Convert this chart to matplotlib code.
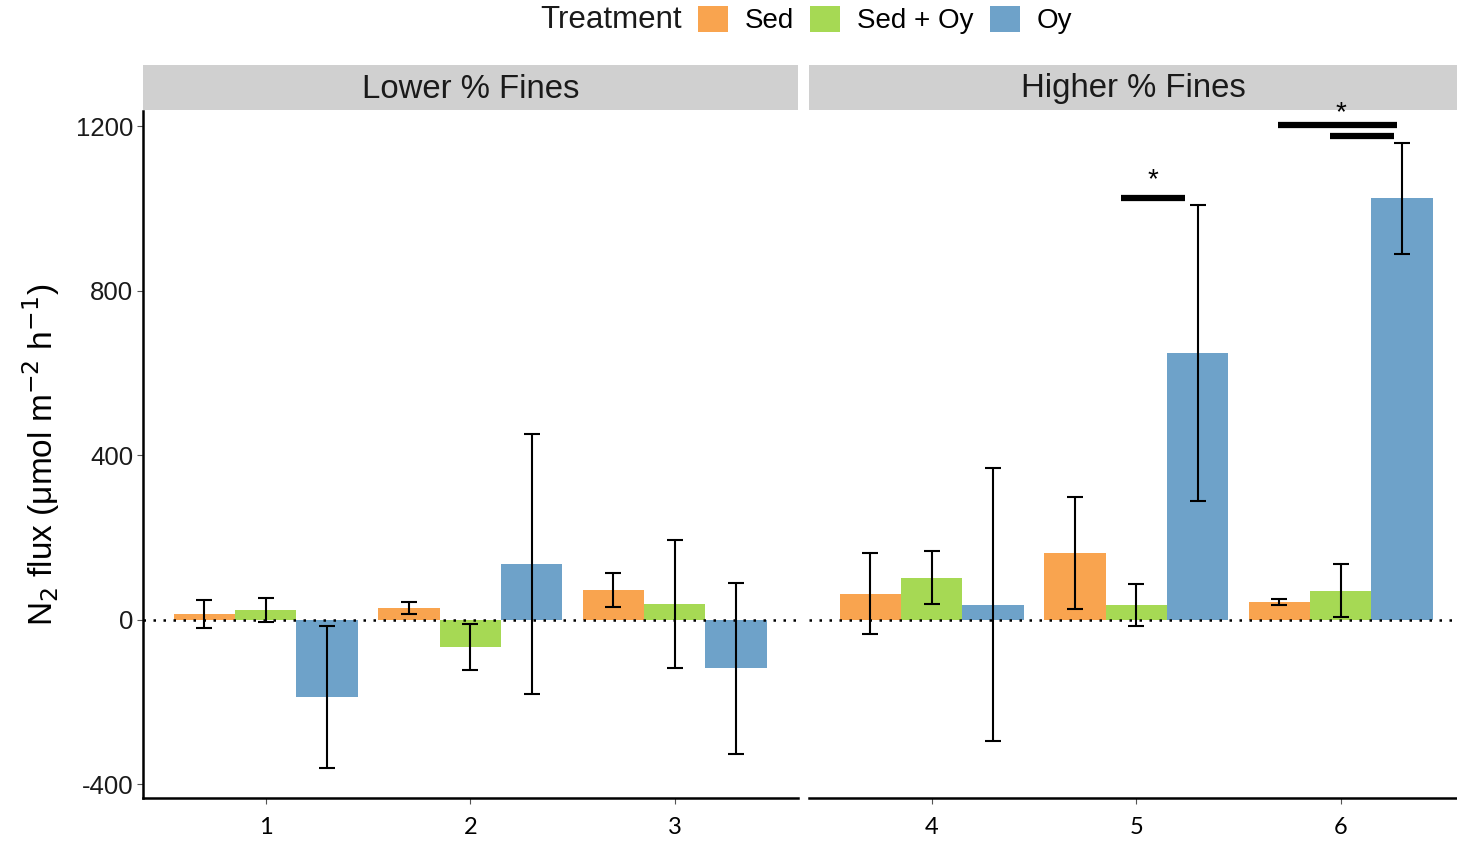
import matplotlib
matplotlib.use("Agg")
import matplotlib.pyplot as plt
from matplotlib.patches import Rectangle
import numpy as np

plt.rcParams["font.family"] = ["Liberation Sans", "DejaVu Sans"]

# ---- data ----
panels = ["Lower % Fines", "Higher % Fines"]
sites = [["1", "2", "3"], ["4", "5", "6"]]
treatments = ["Sed", "Sed + Oy", "Oy"]
colors = ["#F9A44F", "#A6D954", "#6EA2C9"]

sed = [15, 29, 73, 64, 162, 44]
sed_se = [34, 14, 41, 98, 136, 7]
sedoy = [24, -66, 38, 103, 35, 71]
sedoy_se = [28, 56, 156, 64, 51, 64]
oy = [-187, 136, -118, 37, 649, 1025]
oy_se = [172, 317, 208, 331, 360, 135]

means = [sed, sedoy, oy]
ses = [sed_se, sedoy_se, oy_se]

# significance annotations (panel 2): (x0, x1, y) in data units
sig_bars = [(1.926, 2.239, 1026), (2.693, 3.275, 1203), (2.948, 3.261, 1176)]
sig_stars = [(2.08, 1068), (3.0, 1232)]

yticks = [-400, 0, 400, 800, 1200]

# ---- figure ----
W, H = 1457, 841
fig = plt.figure(figsize=(W / 100, H / 100), dpi=100)

def fx(px):
    return px / W

def fy(py):
    return 1 - py / H

ax_top, ax_bot = 111, 798
axes_px = [(143, 798), (809, 1457)]
xlims = [(0.4, 0.4 + 655 / 204.5), (0.4, 0.4 + 648 / 204.5)]
ylim = (-433, 1237)

width = 0.3
offsets = [-width, 0, width]
axes = []
for p, (x0, x1) in enumerate(axes_px):
    ax = fig.add_axes([fx(x0), fy(ax_bot), fx(x1) - fx(x0), fy(ax_top) - fy(ax_bot)])
    ax.patch.set_alpha(0)
    axes.append(ax)
    xs = np.arange(1, 4)
    for t in range(3):
        m = means[t][p * 3:(p + 1) * 3]
        ax.bar(xs + offsets[t], m, width=width, color=colors[t], label=treatments[t],
               zorder=2, edgecolor="none")
    ax.axhline(0, color="black", linestyle=(0, (1, 3)), linewidth=1.8, zorder=3)
    for t in range(3):
        m = means[t][p * 3:(p + 1) * 3]
        s = ses[t][p * 3:(p + 1) * 3]
        ax.errorbar(xs + offsets[t], m, yerr=s, fmt="none", ecolor="black",
                    elinewidth=1.5, capsize=5.5, capthick=1.5, zorder=4)
    ax.set_xlim(*xlims[p])
    ax.set_ylim(*ylim)
    ax.set_xticks(xs)
    ax.set_xticklabels(sites[p], fontfamily="Lato", fontsize=17)
    ax.tick_params(axis="x", length=4, width=0.8, color="#555555", pad=10)
    for side in ["top", "right"]:
        ax.spines[side].set_visible(False)
    ax.spines["bottom"].set_linewidth(1.8)
    ax.spines["left"].set_linewidth(1.8)
    if p == 0:
        ax.set_yticks(yticks)
        ax.set_yticklabels([str(v) for v in yticks], fontsize=18.5, color="#1a1a1a")
        ax.tick_params(axis="y", length=4, width=0.8, color="#555555", pad=3)
        ax.set_ylabel(r"N$_2$ flux (μmol m$^{-2}$ h$^{-1}$)", fontsize=24, labelpad=10)
    else:
        ax.spines["left"].set_visible(False)
        ax.set_yticks([])
    # strip
    fig.patches.append(Rectangle((fx(x0), fy(ax_top - 1)), fx(x1) - fx(x0), fy(65) - fy(ax_top - 1),
                                 transform=fig.transFigure, facecolor="#D0D0D0",
                                 edgecolor="none", zorder=-1))
    fig.text((fx(x0) + fx(x1)) / 2, fy(89), panels[p], ha="center", va="center",
             fontsize=23.7, color="#1a1a1a")

# significance marks on second panel
ax2 = axes[1]
for x0, x1, y in sig_bars:
    ax2.plot([x0, x1], [y, y], color="black", linewidth=4.5, solid_capstyle="butt",
             clip_on=False, zorder=5)
for x, y in sig_stars:
    ax2.text(x, y, "*", ha="center", va="center", fontsize=20, clip_on=False)

# legend
handles, labels = axes[0].get_legend_handles_labels()
fig.text(fx(540), fy(20), "Treatment", ha="left", va="center", fontsize=22.5, color="#1a1a1a")
fig.legend(handles, labels, loc="center left", bbox_to_anchor=(fx(698), fy(20)),
           ncol=3, frameon=False, fontsize=20, handlelength=1.08, handleheight=1.08,
           handletextpad=0.61, columnspacing=0.58, borderpad=0, borderaxespad=0)

fig.savefig("out.png", dpi=100)
